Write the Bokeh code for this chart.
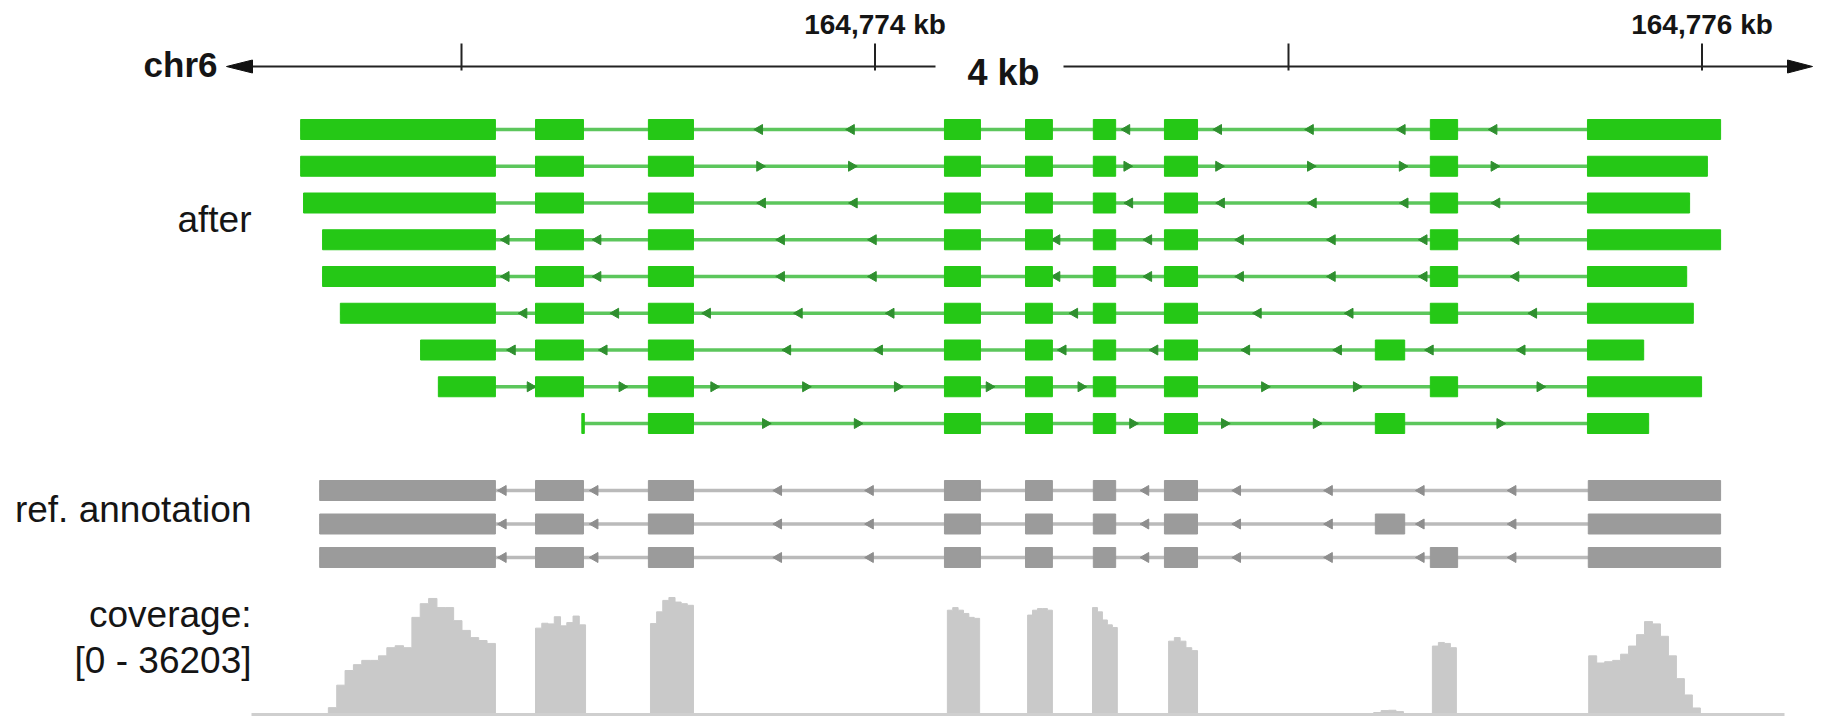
import math
from bokeh.plotting import figure
from bokeh.models import Range1d
from bokeh.core.properties import value
from bokeh.embed import file_html
from bokeh.resources import INLINE

# ---------------- data ----------------
CHROM = "chr6"
VIEW_LABEL = "4 kb"
TICKS_BP = [164773000, 164774000, 164775000, 164776000]
TICK_LABELS = ["", "164,774 kb", "", "164,776 kb"]

TRACK_LABELS = ["after", "ref. annotation"]
COVERAGE_LABEL = ["coverage:", "[0 - 36203]"]
COVERAGE_MAX = 36203

# "after" transcripts (exon starts / ends in bp) and strand
AFTER_STRAND = ["-", "+", "-", "-", "-", "-", "-", "+", "+"]
AFTER_EXON_STARTS = [
    [164772611, 164773179, 164773452, 164774168, 164774364, 164774528, 164774700, 164775343, 164775723],
    [164772611, 164773179, 164773452, 164774168, 164774364, 164774528, 164774700, 164775343, 164775723],
    [164772618, 164773179, 164773452, 164774168, 164774364, 164774528, 164774700, 164775343, 164775723],
    [164772664, 164773179, 164773452, 164774168, 164774364, 164774528, 164774700, 164775343, 164775723],
    [164772664, 164773179, 164773452, 164774168, 164774364, 164774528, 164774700, 164775343, 164775723],
    [164772707, 164773179, 164773452, 164774168, 164774364, 164774528, 164774700, 164775343, 164775723],
    [164772901, 164773179, 164773452, 164774168, 164774364, 164774528, 164774700, 164775210, 164775723],
    [164772944, 164773179, 164773452, 164774168, 164774364, 164774528, 164774700, 164775343, 164775723],
    [164773291, 164773452, 164774168, 164774364, 164774528, 164774700, 164775210, 164775723],
]
AFTER_EXON_ENDS = [
    [164773082, 164773295, 164773561, 164774255, 164774429, 164774582, 164774780, 164775409, 164776045],
    [164773082, 164773295, 164773561, 164774255, 164774429, 164774582, 164774780, 164775409, 164776013],
    [164773082, 164773295, 164773561, 164774255, 164774429, 164774582, 164774780, 164775409, 164775970],
    [164773082, 164773295, 164773561, 164774255, 164774429, 164774582, 164774780, 164775409, 164776045],
    [164773082, 164773295, 164773561, 164774255, 164774429, 164774582, 164774780, 164775409, 164775963],
    [164773082, 164773295, 164773561, 164774255, 164774429, 164774582, 164774780, 164775409, 164775979],
    [164773082, 164773295, 164773561, 164774255, 164774429, 164774582, 164774780, 164775281, 164775859],
    [164773082, 164773295, 164773561, 164774255, 164774429, 164774582, 164774780, 164775409, 164775999],
    [164773297, 164773561, 164774255, 164774429, 164774582, 164774780, 164775281, 164775871],
]

# reference annotation transcripts
REF_STRAND = ["-", "-", "-"]
REF_EXON_STARTS = [
    [164772657, 164773179, 164773452, 164774168, 164774364, 164774528, 164774700, 164775725],
    [164772657, 164773179, 164773452, 164774168, 164774364, 164774528, 164774700, 164775210, 164775725],
    [164772657, 164773179, 164773452, 164774168, 164774364, 164774528, 164774700, 164775343, 164775725],
]
REF_EXON_ENDS = [
    [164773082, 164773295, 164773561, 164774255, 164774429, 164774582, 164774780, 164776045],
    [164773082, 164773295, 164773561, 164774255, 164774429, 164774582, 164774780, 164775281, 164776045],
    [164773082, 164773295, 164773561, 164774255, 164774429, 164774582, 164774780, 164775409, 164776045],
]

# coverage: blocks (bp) with read depths of equal-width bins inside each block
COV_BLOCK_START = [164772678, 164773179, 164773457, 164774175, 164774369,
                   164774526, 164774710, 164775206, 164775348, 164775726]
COV_BLOCK_END = [164773082, 164773300, 164773561, 164774253, 164774429,
                 164774586, 164774780, 164775278, 164775406, 164775996]
COV_BLOCK_VALUES = [
    [2100, 9000, 13500, 15300, 16600, 16600, 18000, 20500, 21100, 20500,
     29800, 34000, 35600, 32800, 32800, 28800, 25800, 23600, 22700, 21800],
    [26500, 28000, 27800, 30000, 27200, 28200, 30200, 27500],
    [27900, 31500, 35000, 35900, 34500, 34000, 33500],
    [32000, 32800, 32000, 31000, 29800, 29500],
    [30500, 32000, 32500, 32500, 32000],
    [32800, 31500, 29000, 27500, 26700],
    [22500, 23600, 22500, 20500, 19600],
    [600, 1200, 1300, 900],
    [21000, 22100, 21800, 20500],
    [18000, 15800, 16200, 16600, 18500, 21000, 24500, 28500, 27800, 24000,
     18000, 11000, 6000, 2000],
]

# ---------------- layout / style ----------------
W, H = 1834, 718
PX_PER_KB = 413.5
ANCHOR_PX = 874.5            # screen x of the 164,774 kb tick
BP_PER_PX = 1000.0 / PX_PER_KB
G_LEFT = TICKS_BP[1] - ANCHOR_PX * BP_PER_PX
G_RIGHT = G_LEFT + W * BP_PER_PX


def px2bp(x):
    return G_LEFT + x * BP_PER_PX


TX_Y0, TX_DY = 129.0, 36.75
REF_Y0, REF_DY = 490.0, 33.5
COV_BASE, COV_TOP = 714.0, 596.0
EXON_H = 20
CHEVRON_STEP_BP = 222

FONT = "Liberation Sans"
TEXT_COLOR = "#151515"
GREEN = "#25c816"
GREEN_LINE = "#5cc65c"
GREEN_CHEV = "#2f8f2f"
GRAY = "#9b9b9b"
GRAY_LINE = "#bababa"
GRAY_CHEV = "#8e8e8e"
COV_COLOR = "#c9c9c9"

p = figure(width=W, height=H, x_range=Range1d(G_LEFT, G_RIGHT), y_range=Range1d(H, 0),
           output_backend="svg", toolbar_location=None,
           x_axis_type=None, y_axis_type=None, min_border=0)
p.outline_line_color = None
p.background_fill_color = "white"
p.border_fill_color = "white"
p.grid.visible = False

cov_k = COVERAGE_MAX / (COV_BASE - COV_TOP)
p.extra_y_ranges = {
    "tx": Range1d(start=(H - TX_Y0) / TX_DY, end=-TX_Y0 / TX_DY),
    "ref": Range1d(start=(H - REF_Y0) / REF_DY, end=-REF_Y0 / REF_DY),
    "cov": Range1d(start=-(H - COV_BASE) * cov_k, end=COV_BASE * cov_k),
}

# ---------------- ruler ----------------
RULER_Y = 66
p.segment(x0=[px2bp(251), px2bp(1063)], y0=[RULER_Y, RULER_Y],
          x1=[px2bp(935), px2bp(1788)], y1=[RULER_Y, RULER_Y],
          line_color="#222222", line_width=2)
p.patches(xs=[[px2bp(226), px2bp(252), px2bp(252)], [px2bp(1812), px2bp(1787), px2bp(1787)]],
          ys=[[RULER_Y, RULER_Y - 6.5, RULER_Y + 6.5], [RULER_Y, RULER_Y - 6.5, RULER_Y + 6.5]],
          fill_color="#111111", line_color="#111111")
p.segment(x0=TICKS_BP, y0=[43] * len(TICKS_BP), x1=TICKS_BP, y1=[70] * len(TICKS_BP),
          line_color="#222222", line_width=2)
p.text(x=TICKS_BP, y=[24] * len(TICKS_BP), text=TICK_LABELS,
       text_font=value(FONT), text_font_size="28px", text_font_style="bold",
       text_align="center", text_baseline="alphabetic", text_color=TEXT_COLOR)
p.text(x=[px2bp(217)], y=[64], text=[CHROM], text_font=value(FONT), text_font_size="35px",
       text_font_style="bold", text_align="right", text_baseline="alphabetic", text_color=TEXT_COLOR)
p.text(x=[px2bp(1003)], y=[72], text=[VIEW_LABEL], text_font=value(FONT), text_font_size="36px",
       text_font_style="bold", text_align="center", text_baseline="alphabetic", text_color=TEXT_COLOR)

# ---------------- track labels ----------------
LABEL_X = px2bp(251)
p.text(x=[LABEL_X] * 4, y=[219, 509, 614, 660],
       text=[TRACK_LABELS[0], TRACK_LABELS[1], COVERAGE_LABEL[0], COVERAGE_LABEL[1]],
       text_font=value(FONT), text_font_size="37px", text_align="right",
       text_baseline="alphabetic", text_color=TEXT_COLOR)


# ---------------- transcripts ----------------
def chevrons(starts, ends):
    out = []
    x = starts[0] + CHEVRON_STEP_BP
    while x < ends[-1]:
        if not any(s - 8 <= x <= e + 8 for s, e in zip(starts, ends)):
            out.append(x)
        x += CHEVRON_STEP_BP
    return out


def draw_track(all_starts, all_ends, strands, rng, fill, line, chev):
    x0, x1, ys = [], [], []
    ex, ew, ey = [], [], []
    cx, cy, ca = [], [], []
    for i, (st, en) in enumerate(zip(all_starts, all_ends)):
        x0.append(st[0]); x1.append(en[-1]); ys.append(i)
        for s, e in zip(st, en):
            ex.append((s + e) / 2); ew.append(e - s); ey.append(i)
        for c in chevrons(st, en):
            cx.append(c); cy.append(i)
            ca.append(math.pi / 2 if strands[i] == "-" else -math.pi / 2)
    p.segment(x0=x0, y0=ys, x1=x1, y1=ys, line_color=line, line_width=3.5, y_range_name=rng)
    p.scatter(x=cx, y=cy, marker="triangle", size=10, angle=ca, fill_color=chev,
              line_color=chev, y_range_name=rng)
    p.rect(x=ex, y=ey, width=ew, height=EXON_H, height_units="screen",
           fill_color=fill, line_color=fill, line_width=1, y_range_name=rng)


draw_track(AFTER_EXON_STARTS, AFTER_EXON_ENDS, AFTER_STRAND, "tx", GREEN, GREEN_LINE, GREEN_CHEV)
draw_track(REF_EXON_STARTS, REF_EXON_ENDS, REF_STRAND, "ref", GRAY, GRAY_LINE, GRAY_CHEV)

# ---------------- coverage ----------------
cov_xs, cov_ys = [], []
for s, e, vals in zip(COV_BLOCK_START, COV_BLOCK_END, COV_BLOCK_VALUES):
    n = len(vals)
    w = (e - s) / n
    xs, ys = [s], [0]
    for j, v in enumerate(vals):
        xs += [s + j * w, s + (j + 1) * w]
        ys += [v, v]
    xs.append(e); ys.append(0)
    cov_xs.append(xs); cov_ys.append(ys)
p.patches(xs=cov_xs, ys=cov_ys, fill_color=COV_COLOR, line_color=COV_COLOR, line_width=1,
          y_range_name="cov")
p.segment(x0=[px2bp(251)], y0=[0], x1=[px2bp(1784)], y1=[0], line_color="#cfcfcf",
          line_width=3, y_range_name="cov")

open("out.html", "w").write(file_html(p, INLINE))
